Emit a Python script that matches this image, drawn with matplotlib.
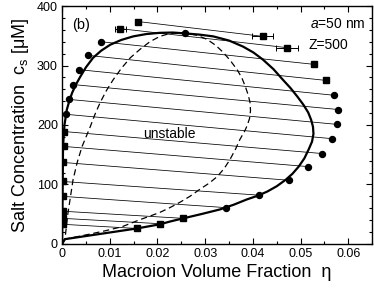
import matplotlib
matplotlib.use('Agg')
import matplotlib.pyplot as plt
from matplotlib.ticker import MultipleLocator

plt.rcParams['font.family'] = ['Liberation Sans', 'DejaVu Sans']
plt.rcParams['mathtext.fontset'] = 'custom'
plt.rcParams['mathtext.rm'] = 'Liberation Sans'
plt.rcParams['mathtext.it'] = 'Liberation Sans:italic'

# coexisting phases (experiment), left = dilute, right = dense
left_eta = [0.0159, 0.0122, 0.0082, 0.0055, 0.0036, 0.0023, 0.0015, 0.0008,
            0.0004, 0.0003, 0.0002, 0.0001, 0.0001, 0.0001, 0.0001, 0.0001]
left_cs = [374, 362, 340, 317, 293, 268, 243, 218,
           189, 164, 137, 105, 80, 55, 43, 33]
left_err = [0, 0.0012, 0, 0, 0, 0, 0, 0, 0, 0, 0, 0, 0, 0, 0, 0]
left_mk = ['s', 's', 'o', 'o', 'o', 'o', 'o', 'o',
           's', 's', 's', 's', 's', 's', 's', 's']

right_eta = [0.0421, 0.0472, 0.0528, 0.0553, 0.0570, 0.0579, 0.0577, 0.0566,
             0.0545, 0.0516, 0.0476, 0.0413, 0.0344, 0.0254, 0.0205, 0.0157]
right_cs = [349, 330, 302, 275, 250, 226, 201, 177,
            152, 130, 107, 82, 61, 43, 34, 26]
right_err = [0.0022, 0.0023, 0, 0, 0, 0, 0, 0, 0, 0, 0, 0, 0, 0, 0, 0]
right_mk = ['s', 's', 's', 's', 'o', 'o', 'o', 'o',
            'o', 'o', 'o', 'o', 'o', 's', 's', 's']

crit_eta = [0.0258]
crit_cs = [354]

# theoretical binodal (solid)
bin_eta = [0.0, 0.0001, 0.0002, 0.0005, 0.0010, 0.0015, 0.0021, 0.0029, 0.0038,
           0.0050, 0.0065, 0.0082, 0.0101, 0.0124, 0.0149, 0.0177, 0.0205,
           0.0232, 0.0258, 0.0288, 0.0317, 0.0350, 0.0379, 0.0401, 0.0421,
           0.0443, 0.0463, 0.0479, 0.0493, 0.0506, 0.0516, 0.0522, 0.0526,
           0.0527, 0.0524, 0.0517, 0.0508, 0.0496, 0.0483, 0.0469, 0.0450,
           0.0430, 0.0410, 0.0388, 0.0360, 0.0331, 0.0291, 0.0254, 0.0228,
           0.0205, 0.0157, 0.0006, 0.0]
bin_cs = [0, 80, 164, 200, 226, 240, 254, 268, 281,
          297, 313, 325, 335, 343, 349, 353, 355,
          355.5, 354, 352, 349, 342, 332, 322, 310,
          294, 276, 262, 248, 234, 221, 209, 197,
          185, 172, 159, 144, 130, 118, 108, 97,
          88, 81, 75, 66, 58, 50, 43, 38,
          33, 26, 8, 0]

# theoretical spinodal (dashed)
spin_eta = [0.0, 0.0006, 0.0012, 0.0023, 0.0032, 0.0042, 0.0059, 0.0069, 0.0080,
            0.0093, 0.0107, 0.0124, 0.0143, 0.0163, 0.0184, 0.0205, 0.0226,
            0.0258, 0.0282, 0.0304, 0.0322, 0.0338, 0.0353, 0.0367, 0.0377,
            0.0384, 0.0390, 0.0394, 0.0395, 0.0393, 0.0388, 0.0383, 0.0373,
            0.0364, 0.0352, 0.0340, 0.0325, 0.0308, 0.0289, 0.0268, 0.0247,
            0.0226, 0.0205, 0.0185, 0.0164, 0.0145, 0.0126, 0.0090, 0.0055,
            0.0006, 0.0]
spin_cs = [0, 8, 50, 108, 138, 164, 197, 218, 238,
           258, 276, 295, 313, 327, 340, 349, 354,
           355, 351, 344, 334, 322, 308, 293, 279,
           265, 251, 238, 224, 211, 199, 190, 176,
           160, 142, 127, 113, 102, 92, 80, 70,
           61, 53, 47, 41, 35, 29, 22, 16,
           8, 0]

fig = plt.figure(figsize=(3.74, 2.89), dpi=100)
ax = fig.add_axes([0.166, 0.156, 0.829, 0.823])

# tie lines
for le, lc, re, rc in zip(left_eta, left_cs, right_eta, right_cs):
    ax.plot([le, re], [lc, rc], color='black', lw=0.55, zorder=2)

ax.plot(bin_eta, bin_cs, color='black', lw=1.6, zorder=3,
        solid_joinstyle='round')
ax.plot(spin_eta, spin_cs, color='black', lw=0.9, ls=(0, (5, 3)), zorder=3)

for e, c, er, m in zip(left_eta, left_cs, left_err, left_mk):
    ms = 3.8 if m == 's' else 4.3
    ax.errorbar([e], [c], xerr=[er] if er else None, fmt=m, color='black',
                ms=ms, elinewidth=0.7, capsize=2.5, capthick=0.7, zorder=4)
for e, c, er, m in zip(right_eta, right_cs, right_err, right_mk):
    ms = 3.8 if m == 's' else 4.3
    ax.errorbar([e], [c], xerr=[er] if er else None, fmt=m, color='black',
                ms=ms, elinewidth=0.7, capsize=2.5, capthick=0.7, zorder=4)
ax.plot(crit_eta, crit_cs, 'o', color='black', ms=4.3, zorder=5)

ax.set_xlim(0, 0.065)
ax.set_ylim(0, 400)
ax.xaxis.set_minor_locator(MultipleLocator(0.005))
ax.yaxis.set_major_locator(MultipleLocator(100))
ax.yaxis.set_minor_locator(MultipleLocator(20))
ax.set_xticks([0, 0.01, 0.02, 0.03, 0.04, 0.05, 0.06])
ax.set_xticklabels(['0', '0.01', '0.02', '0.03', '0.04', '0.05', '0.06'])
ax.tick_params(which='both', direction='in', top=True, right=True, labelsize=9,
               width=0.8)
ax.tick_params(which='major', length=4.5, pad=3)
ax.tick_params(which='minor', length=2.5)
for s in ax.spines.values():
    s.set_linewidth(1.0)

ax.set_xlabel('Macroion Volume Fraction  η', fontsize=13, labelpad=3)
ax.set_ylabel('Salt Concentration  c$_\\mathrm{s}$ [μM]', fontsize=13, labelpad=4)

ax.text(0.0021, 369, '(b)', fontsize=10.5, va='center', ha='left')
ax.text(0.0224, 185, 'unstable', fontsize=10, va='center', ha='center')
ax.text(0.0637, 370, '$\\it{a}$=50 nm', fontsize=10, va='center', ha='right')
ax.text(0.0517, 334, 'Z=500', fontsize=10, va='center', ha='left')

fig.savefig('out.png', dpi=100)
